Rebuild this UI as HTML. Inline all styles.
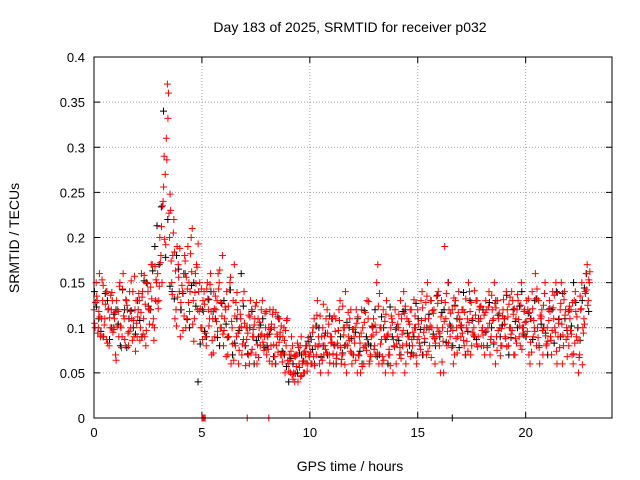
<!DOCTYPE html>
<html><head><meta charset="utf-8"><style>
body{margin:0;background:#fff}
svg{display:block;font-family:"Liberation Sans",sans-serif}
</style></head><body>
<svg id="chart" width="640" height="480">
<rect width="640" height="480" fill="#fff"/>
<text x="350" y="32" font-size="14" text-anchor="middle">Day 183 of 2025, SRMTID for receiver p032</text>
<text transform="translate(19,238) rotate(-90)" font-size="14" text-anchor="middle">SRMTID / TECUs</text>
<text x="350" y="471" font-size="14" text-anchor="middle">GPS time / hours</text>
<g id="grid"></g>
<g id="ticks"></g>
<g id="marks"></g>
<rect x="94" y="57" width="518" height="361" fill="none" stroke="#000" stroke-width="1"/>
</svg>
<script>
const xTicks=[0,5,10,15,20];
const yTicks=[0,0.05,0.1,0.15,0.2,0.25,0.3,0.35,0.4];
const yTickLabels=["0","0.05","0.1","0.15","0.2","0.25","0.3","0.35","0.4"];
const redStep=0.1;
const redA=[.12,.15,.10,.09,.13,.11,.14,.08,.12,.10,
.07,.12,.15,.09,.11,.13,.08,.10,.14,.12,
.09,.13,.16,.11,.08,.14,.12,.17,.10,.15,
.13,.18,.24,.27,.37,.20,.15,.22,.12,.17,
.09,.14,.18,.11,.15,.20,.13,.16,.12,.15,
.10,.14,.08,.12,.16,.11,.09,.13,.15,.10,
.08,.12,.07,.15,.10,.17,.09,.06,.11,.13,
.08,.10,.06,.12,.09,.07,.11,.08,.13,.09,
.07,.10,.08,.12,.06,.09,.11,.07,.10,.08,
.06,.05,.08,.04,.07,.06,.09,.05,.07,.06,
.08,.06,.11,.07,.09,.05,.10,.08,.12,.07,
.09,.06,.11,.08,.13,.07,.10,.05,.09,.12,
.07,.10,.05,.09,.12,.06,.08,.11,.07,.10,
.08,.15,.06,.10,.12,.05,.09,.07,.11,.08,
.06,.10,.13,.08,.05,.11,.09,.12,.07,.10,
.12,.08,.14,.10,.07,.11,.13,.09,.06,.10,
.08,.13,.05,.11,.15,.09,.12,.07,.10,.14,
.09,.12,.07,.11,.14,.08,.10,.13,.09,.11,
.10,.07,.12,.14,.09,.11,.06,.13,.10,.08,
.11,.14,.08,.10,.13,.07,.12,.09,.15,.10,
.09,.12,.06,.14,.10,.08,.13,.11,.07,.15,
.10,.13,.07,.11,.15,.09,.12,.06,.14,.10,
.08,.12,.06,.14,.10,.07,.15,.11,.16,.13];
const redB=[.10,.13,.16,.11,.09,.14,.12,.10,.13,.11,
.13,.09,.10,.16,.08,.12,.14,.11,.09,.13,
.12,.10,.14,.09,.15,.12,.17,.11,.13,.16,
.20,.15,.29,.31,.36,.23,.18,.11,.19,.14,
.12,.16,.10,.19,.14,.21,.11,.17,.14,.10,
.13,.09,.15,.11,.07,.14,.12,.16,.10,.18,
.11,.14,.09,.06,.13,.08,.12,.10,.07,.14,
.10,.07,.13,.09,.11,.06,.10,.12,.08,.10,
.09,.12,.06,.10,.08,.11,.07,.09,.05,.11,
.07,.09,.05,.07,.04,.08,.06,.05,.08,.07,
.06,.10,.08,.13,.06,.09,.07,.11,.05,.09,
.11,.08,.07,.12,.06,.10,.14,.08,.11,.06,
.09,.12,.07,.05,.10,.08,.13,.06,.09,.11,
.07,.17,.10,.06,.09,.13,.07,.10,.05,.12,
.09,.07,.11,.14,.06,.09,.12,.08,.10,.06,
.09,.13,.07,.11,.15,.08,.10,.12,.09,.14,
.05,.10,.19,.08,.12,.10,.06,.13,.09,.11,
.12,.08,.10,.15,.07,.11,.09,.13,.12,.08,
.08,.13,.10,.07,.12,.15,.09,.11,.08,.12,
.09,.12,.10,.14,.07,.11,.13,.08,.10,.12,
.13,.07,.11,.09,.16,.10,.06,.12,.10,.08,
.12,.09,.14,.10,.06,.11,.15,.08,.12,.09,
.11,.07,.13,.09,.05,.12,.10,.14,.17,.15];
const redC=[.105,.135,.118,.092,.147,.126,.083,.111,.139,.098,
.064,.118,.102,.143,.087,.125,.096,.152,.108,.074,
.112,.086,.134,.158,.097,.121,.145,.103,.168,.129,
.146,.212,.256,.192,.332,.248,.137,.184,.102,.156,
.128,.097,.174,.143,.118,.162,.085,.149,.193,.121,
.087,.126,.143,.102,.118,.072,.135,.096,.164,.113,
.097,.068,.124,.156,.082,.113,.139,.075,.101,.087,
.058,.094,.112,.076,.103,.128,.067,.091,.084,.116,
.092,.063,.104,.081,.117,.073,.095,.062,.086,.108,
.052,.074,.043,.068,.083,.056,.047,.072,.061,.089,
.073,.095,.058,.114,.082,.067,.126,.076,.094,.061,
.084,.113,.066,.097,.078,.124,.059,.103,.086,.072,
.098,.064,.112,.083,.057,.106,.075,.129,.068,.092,
.103,.072,.138,.087,.064,.115,.093,.058,.106,.079,
.082,.115,.066,.097,.124,.073,.104,.087,.131,.069,
.104,.076,.122,.088,.135,.098,.067,.116,.083,.127,
.094,.062,.107,.138,.083,.116,.097,.124,.072,.109,
.103,.086,.132,.074,.118,.095,.141,.082,.107,.124,
.092,.117,.078,.105,.136,.084,.122,.097,.069,.113,
.104,.079,.126,.093,.115,.088,.137,.102,.076,.118,
.107,.132,.084,.121,.096,.143,.078,.112,.125,.091,
.085,.118,.097,.136,.074,.105,.127,.092,.114,.068,
.124,.093,.071,.118,.086,.135,.059,.104,.142,.153];
const redD=[.128,.094,.112,.153,.103,.087,.121,.136,.095,.117,
.102,.146,.078,.113,.131,.094,.118,.086,.157,.105,
.138,.117,.093,.126,.149,.104,.132,.086,.153,.121,
.172,.235,.198,.286,.227,.174,.205,.163,.134,.188,
.147,.113,.156,.128,.182,.104,.139,.167,.118,.143,
.118,.094,.132,.148,.086,.121,.107,.143,.128,.093,
.123,.089,.142,.107,.064,.128,.094,.115,.082,.105,
.087,.114,.072,.098,.124,.081,.106,.093,.075,.118,
.076,.098,.115,.068,.093,.084,.102,.072,.097,.064,
.064,.048,.069,.057,.078,.046,.063,.074,.052,.068,
.087,.068,.102,.079,.113,.064,.091,.072,.104,.083,
.071,.096,.083,.108,.065,.092,.081,.117,.074,.098,
.083,.105,.069,.094,.078,.117,.087,.063,.102,.076,
.095,.124,.082,.068,.107,.091,.076,.113,.087,.098,
.104,.078,.093,.116,.082,.107,.068,.095,.113,.087,
.083,.108,.095,.128,.074,.102,.119,.088,.135,.096,
.112,.085,.128,.096,.104,.078,.133,.088,.117,.102,
.094,.117,.085,.106,.128,.092,.114,.079,.123,.097,
.114,.096,.123,.087,.108,.127,.075,.116,.099,.131,
.088,.112,.134,.097,.121,.083,.109,.125,.094,.106,
.096,.117,.073,.108,.132,.089,.114,.097,.138,.082,
.108,.086,.122,.095,.139,.078,.104,.131,.087,.118,
.097,.128,.083,.112,.067,.121,.094,.138,.125,.162];
const blackStep=0.2;
const blackA=[.14,.11,.09,.13,.10,.12,.08,.12,.11,.10,
.13,.09,.15,.12,.19,.17,.34,.22,.14,.18,
.12,.16,.10,.15,.04,.12,.09,.14,.11,.08,
.13,.09,.07,.11,.16,.08,.10,.06,.09,.11,
.08,.10,.06,.09,.07,.04,.06,.05,.07,.08,
.09,.06,.10,.08,.07,.11,.06,.09,.08,.10,
.07,.11,.06,.09,.08,.12,.07,.10,.06,.09,
.10,.07,.12,.08,.09,.11,.07,.10,.13,.08,
.09,.12,.15,.08,.11,.10,.07,.13,.09,.11,
.12,.08,.10,.13,.09,.11,.07,.12,.10,.14,
.09,.11,.13,.08,.10,.07,.12,.14,.09,.11,
.12,.15,.10,.13,.16];
const blackB=[.123,.096,.138,.087,.115,.104,.142,.078,.119,.093,
.108,.152,.124,.163,.213,.234,.178,.146,.132,.165,
.138,.109,.147,.124,.082,.096,.131,.118,.089,.127,
.104,.142,.083,.097,.124,.071,.118,.086,.103,.078,
.093,.068,.112,.074,.057,.066,.049,.072,.063,.085,
.076,.102,.068,.094,.113,.081,.097,.072,.106,.088,
.095,.074,.119,.082,.101,.068,.112,.087,.123,.079,
.086,.118,.094,.072,.127,.098,.084,.115,.093,.136,
.117,.084,.102,.125,.078,.139,.096,.108,.087,.123,
.095,.128,.082,.114,.103,.136,.089,.107,.124,.092,
.116,.087,.132,.104,.094,.121,.083,.109,.138,.097,
.102,.128,.086,.144,.118];
const redZeroTimes=[5.0,5.05,5.1,5.15,7.1,8.1];
const blackZeroTimes=[16.6];

const NS="http://www.w3.org/2000/svg";
const X0=94,X1=612,Y0=418,Y1=57;
const xs=v=>X0+(v/24)*(X1-X0);
const ys=v=>Y0-(v/0.4)*(Y0-Y1);
function mk(tag,attrs,parent){const e=document.createElementNS(NS,tag);for(const k in attrs)e.setAttribute(k,attrs[k]);parent.appendChild(e);return e;}
const grid=document.getElementById('grid'),ticks=document.getElementById('ticks'),marks=document.getElementById('marks');
xTicks.forEach(v=>{
  const x=xs(v);
  if(v>0){const l=mk('line',{x1:x,x2:x,y1:Y1,y2:Y0,stroke:'#a0a0a0','stroke-dasharray':'1,2'},grid);
  
  }
  mk('line',{x1:x,x2:x,y1:Y0,y2:Y0-6,stroke:'#000'},ticks);
  mk('line',{x1:x,x2:x,y1:Y1,y2:Y1+6,stroke:'#000'},ticks);
  const t=mk('text',{x:x,y:Y0+19,'font-size':13,'text-anchor':'middle'},ticks);
  t.textContent=v;
  
  
});
yTicks.forEach((v,i)=>{
  const y=ys(v);
  if(v>0&&v<0.4){const l=mk('line',{x1:X0,x2:X1,y1:y,y2:y,stroke:'#a0a0a0','stroke-dasharray':'1,2'},grid);
  
  }
  mk('line',{x1:X0,x2:X0+6,y1:y,y2:y,stroke:'#000'},ticks);
  mk('line',{x1:X1,x2:X1-6,y1:y,y2:y,stroke:'#000'},ticks);
  const t=mk('text',{x:X0-9,y:y+5,'font-size':13,'text-anchor':'end'},ticks);
  t.textContent=yTickLabels[i];
  
  
});
function plus(t,v,color,name){
  const x=xs(t),y=ys(v);
  const p=mk('path',{d:`M${x-3.5},${y}h7M${x},${y-3.5}v7`,stroke:color,'stroke-width':1,fill:'none'},marks);
  
  
}
blackA.forEach((v,i)=>plus(0.02+i*blackStep,v,'#000','black-point'));
blackB.forEach((v,i)=>plus(0.12+i*blackStep,v,'#000','black-point'));
blackZeroTimes.forEach(t=>plus(t,0,'#000','black-zero-point'));
redA.forEach((v,i)=>plus(0+i*redStep,v,'#f00','red-point'));
redC.forEach((v,i)=>plus(0.025+i*redStep,v,'#f00','red-point'));
redB.forEach((v,i)=>plus(0.05+i*redStep,v,'#f00','red-point'));
redD.forEach((v,i)=>plus(0.075+i*redStep,v,'#f00','red-point'));
redZeroTimes.forEach(t=>plus(t,0,'#f00','red-zero-point'));
</script>
</body></html>
